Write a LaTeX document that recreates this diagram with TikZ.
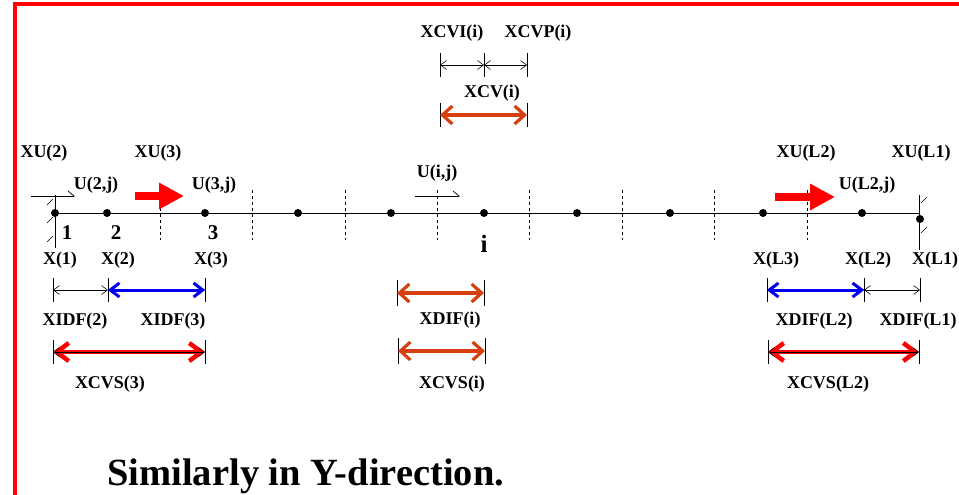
\documentclass[tikz,border=0pt]{standalone}
\usepackage{fontspec}
\setmainfont{Liberation Serif}
\usetikzlibrary{arrows.meta, calc}

\definecolor{framered}{RGB}{255,0,0}
\definecolor{cvorange}{RGB}{214,64,16}
\definecolor{difblue}{RGB}{0,0,240}

\begin{document}
\begin{tikzpicture}[
    x = 1pt, y = -1pt,
    line width = 0.8pt,
    >= {Straight Barb[length = 6pt, width = 9pt]},
    grid point/.style = {circle,
      fill,
      inner sep = 0pt,
      minimum size = 8pt},
    lbl/.style = {font = \bfseries\fontsize{18}{20}\selectfont, inner sep = 0pt},
    num/.style = {font = \bfseries\fontsize{21}{24}\selectfont, inner sep = 0pt},
    face/.style = {dash pattern = on 3pt off 3pt},
    thin dim/.style = {line width = 0.6pt},
    cv dim/.style = {cvorange, line width = 3.2pt,
      {Straight Barb[length = 10pt, width = 18pt]}-{Straight Barb[length = 10pt, width = 18pt]}},
    dif dim/.style = {difblue, line width = 3pt,
      {Straight Barb[length = 9pt, width = 14pt]}-{Straight Barb[length = 9pt, width = 14pt]}},
    cvs dim/.style = {framered, line width = 4.5pt,
      {Straight Barb[length = 12pt, width = 18pt]}-{Straight Barb[length = 12pt, width = 18pt]}},
    velocity/.style = {framered, line width = 8pt,
      -{Triangle[length = 25pt, width = 25pt]}},
    small velocity/.style = {line width = 0.7pt,
      -{Straight Barb[left, length = 6pt, width = 10pt]}}
    ]
    \useasboundingbox (0, 0) rectangle (959, 495);

    % slide frame
    \draw [framered, line width = 4.5pt] (15, 500) -- (15, 4) -- (965, 4);

    % grid
    \foreach \xx/\nm in {55/1, 107/2, 205/3, 298/4, 391/5, 484/6,
      577/7, 670/8, 763/9, 862/10}
      \node at (\xx, 213) [grid point, name = N\nm] {};
    \node at (920, 219) [grid point, name = N11] {};
    \coordinate (axisend) at (920, 213);
    \draw (N1) -- (axisend);
    \foreach \xx in {160, 252, 345, 437, 529, 622, 714, 807}
      \draw [face] (\xx, 190) -- (\xx, 240);

    % walls
    \draw (55, 195) -- (55, 248);
    \foreach \yy in {205, 223, 242}
      \draw [line width = 0.6pt] (47, \yy) -- (53, \yy - 6);
    \draw (919, 195) -- (919, 250);
    \foreach \yy in {203, 233}
      \draw [line width = 0.6pt] (921, \yy) -- (927, \yy - 6);

    % velocities
    \coordinate (v2a) at (31, 196);
    \coordinate (v2b) at (75, 196);
    \draw [small velocity] (v2a) -- (v2b);
    \coordinate (via) at (415, 196);
    \coordinate (vib) at (460, 196);
    \draw [small velocity] (via) -- (vib);
    \coordinate (v3a) at (135, 196);
    \coordinate (v3b) at (184, 196);
    \draw [velocity] (v3a) -- (v3b);
    \coordinate (vla) at (775, 197);
    \coordinate (vlb) at (835, 197);
    \draw [velocity] (vla) -- (vlb);

    \node at (44, 153) [lbl, name = xu2] {XU(2)};
    \node at (158, 153) [lbl, name = xu3] {XU(3)};
    \node at (806, 153) [lbl, name = xul2] {XU(L2)};
    \node at (921, 153) [lbl, name = xul1] {XU(L1)};
    \node at (96, 185) [lbl, name = u2] {U(2,j)};
    \node at (214, 185) [lbl, name = u3] {U(3,j)};
    \node at (437, 173) [lbl, name = ui] {U(i,j)};
    \node at (867, 185) [lbl, name = ul2] {U(L2,j)};

    \node at (67, 233) [num, name = one] {1};
    \node at (116, 233) [num, name = two] {2};
    \node at (213, 233) [num, name = three] {3};
    \node at (484, 244) [num, font = \bfseries\fontsize{25}{28}\selectfont, name = idx] {i};

    \node at (60, 260) [lbl, name = x1] {X(1)};
    \node at (118, 260) [lbl, name = x2] {X(2)};
    \node at (211, 260) [lbl, name = x3] {X(3)};
    \node at (776, 260) [lbl, name = xl3] {X(L3)};
    \node at (868, 260) [lbl, name = xl2] {X(L2)};
    \node at (935, 260) [lbl, name = xl1] {X(L1)};

    % control volume around i
    \node at (452, 33) [lbl, name = xcvi] {XCVI(i)};
    \node at (538, 33) [lbl, name = xcvp] {XCVP(i)};
    \coordinate (ci1) at (440, 65);
    \coordinate (ci2) at (484, 65);
    \coordinate (ci3) at (527, 65);
    \foreach \c in {ci1, ci2, ci3}
      \draw ([yshift = 12pt]\c) -- ([yshift = -12pt]\c);
    \draw [thin dim, <->] (ci1) -- (ci2);
    \draw [thin dim, <->] (ci2) -- (ci3);

    \node at (492, 93) [lbl, name = xcv] {XCV(i)};
    \coordinate (cv1) at (440, 115);
    \coordinate (cv2) at (527, 115);
    \foreach \c in {cv1, cv2}
      \draw ([yshift = 12pt]\c) -- ([yshift = -12pt]\c);
    \draw [cv dim] (cv1) -- (cv2);

    \coordinate (d1) at (397, 293);
    \coordinate (d2) at (484, 293);
    \foreach \c in {d1, d2}
      \draw ([yshift = 13pt]\c) -- ([yshift = -13pt]\c);
    \draw [cv dim] (d1) -- (d2);
    \node at (450, 320) [lbl, name = xdifi] {XDIF(i)};

    \coordinate (e1) at (398, 351);
    \coordinate (e2) at (485, 351);
    \foreach \c in {e1, e2}
      \draw ([yshift = 13pt]\c) -- ([yshift = -13pt]\c);
    \draw [cv dim] (e1) -- (e2);
    \node at (452, 384) [lbl, name = xcvsi] {XCVS(i)};

    % left boundary
    \coordinate (l1) at (53, 290);
    \coordinate (l2) at (108, 290);
    \coordinate (l3) at (205, 290);
    \foreach \c in {l1, l2, l3}
      \draw ([yshift = 12pt]\c) -- ([yshift = -12pt]\c);
    \draw [thin dim, <->] (l1) -- (l2);
    \draw [thin dim, <->] (l2) -- (l3);
    \draw [dif dim] (l2) -- (l3);
    \node at (75, 321) [lbl, name = xidf2] {XIDF(2)};
    \node at (173, 321) [lbl, name = xidf3] {XIDF(3)};

    \coordinate (s1) at (53, 352);
    \coordinate (s2) at (205, 352);
    \foreach \c in {s1, s2}
      \draw ([yshift = 12pt]\c) -- ([yshift = -12pt]\c);
    \draw [cvs dim] (s1) -- (s2);
    \draw [thin dim, <->] (s1) -- (s2);
    \node at (110, 384) [lbl, name = xcvs3] {XCVS(3)};

    % right boundary
    \coordinate (r1) at (767, 290);
    \coordinate (r2) at (864, 290);
    \coordinate (r3) at (920, 290);
    \foreach \c in {r1, r2, r3}
      \draw ([yshift = 12pt]\c) -- ([yshift = -12pt]\c);
    \draw [thin dim, <->] (r1) -- (r2);
    \draw [thin dim, <->] (r2) -- (r3);
    \draw [dif dim] (r1) -- (r2);
    \node at (814, 321) [lbl, name = xdifl2] {XDIF(L2)};
    \node at (918, 321) [lbl, name = xdifl1] {XDIF(L1)};

    \coordinate (t1) at (768, 352);
    \coordinate (t2) at (919, 352);
    \foreach \c in {t1, t2}
      \draw ([yshift = 12pt]\c) -- ([yshift = -12pt]\c);
    \draw [cvs dim] (t1) -- (t2);
    \draw [thin dim, <->] (t1) -- (t2);
    \node at (828, 384) [lbl, name = xcvsl2] {XCVS(L2)};

    \node at (107, 485) [anchor = base west, inner sep = 0pt,
      font = \bfseries\fontsize{38.5}{42}\selectfont, name = note]
      {Similarly in Y-direction.};

  \end{tikzpicture}
\end{document}
